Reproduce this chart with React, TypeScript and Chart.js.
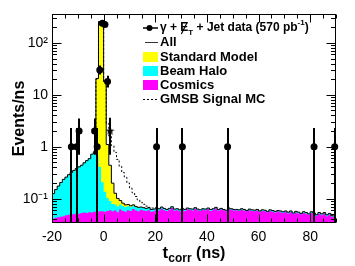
import React, { useEffect, useRef } from 'react';
import { Chart, registerables } from 'chart.js';

Chart.register(...registerables);

const FONT = '"Liberation Sans", Arial, Helvetica, sans-serif';

// ---------- data ----------
// histogram binning (ns)
const binLow = -20;
const binWidth = 1;

// Cosmics (magenta), bins -20 .. 89
const cosmics = [
  0.040, 0.041, 0.043, 0.044, 0.045, 0.046, 0.048, 0.049, 0.050, 0.050, 0.052, 0.051, 0.053, 0.054, 0.053, 0.055, 0.054, 0.056, 0.055, 0.057,
  0.057, 0.056, 0.058, 0.060, 0.057, 0.059, 0.055, 0.062, 0.058, 0.056, 0.060, 0.058, 0.063, 0.059, 0.057, 0.061, 0.059, 0.058, 0.060, 0.056,
  0.057, 0.062, 0.059, 0.064, 0.060, 0.058, 0.061, 0.066, 0.059, 0.060, 0.057, 0.062, 0.058, 0.063, 0.061, 0.059, 0.064, 0.060, 0.058, 0.061,
  0.060, 0.063, 0.058, 0.061, 0.065, 0.059, 0.062, 0.060, 0.057, 0.063, 0.061, 0.059, 0.060, 0.058, 0.061, 0.059, 0.057, 0.060, 0.058, 0.057,
  0.059, 0.056, 0.058, 0.057, 0.055, 0.058, 0.056, 0.054, 0.057, 0.055, 0.053, 0.056, 0.052, 0.055, 0.051, 0.054, 0.052, 0.050, 0.053, 0.051,
  0.049, 0.053, 0.050, 0.047, 0.051, 0.048, 0.052, 0.046, 0.049, 0.045,
];

// Beam Halo (cyan), bins -20 .. 89
const beamHalo = [
  0.055, 0.084, 0.107, 0.131, 0.160, 0.189, 0.212, 0.241, 0.270, 0.300, 0.328, 0.359, 0.387, 0.436, 0.487, 0.535, 0.666, 0.745, 0.600, 0.350,
  0.150, 0.080, 0.045, 0.030, 0.022, 0.018, 0.016, 0.015, 0.014, 0.013, 0.012, 0.011, 0.010, 0.010, 0.009, 0.008, 0.008, 0.007, 0.007, 0.006,
  0.006, 0.005, 0.005, 0.005, 0.005, 0.004, 0.004, 0.004, 0.004, 0.004, 0.004, 0.003, 0.004, 0.003, 0.003, 0.004, 0.003, 0.003, 0.003, 0.003,
  0.003, 0.003, 0.004, 0.003, 0.003, 0.003, 0.003, 0.002, 0.003, 0.003, 0.003, 0.003, 0.002, 0.003, 0.003, 0.003, 0.002, 0.003, 0.003, 0.003,
  0.003, 0.002, 0.003, 0.003, 0.002, 0.003, 0.003, 0.003, 0.002, 0.003, 0.003, 0.002, 0.003, 0.003, 0.002, 0.003, 0.003, 0.002, 0.003, 0.003,
  0.002, 0.003, 0.003, 0.002, 0.003, 0.003, 0.002, 0.003, 0.003, 0.002,
];

// Standard Model (yellow), bins starting at -2 ns
const smLow = -2;
const standardModel = [20, 255, 245, 18, 1.0, 0.35, 0.12, 0.05, 0.03, 0.015, 0.01, 0.007, 0.005, 0.004, 0.003, 0.002, 0.002];

// GMSB Signal MC (dotted, total), bins starting at -3 ns
const gmsbLow = -3;
const gmsbTotal = [0.8, 20, 255, 245, 18, 2.8, 1.6, 1.05, 0.78, 0.57, 0.42, 0.32, 0.26, 0.2, 0.16, 0.13, 0.11, 0.095, 0.085, 0.078, 0.072, 0.068, 0.066];

// gamma + MET + jet data
const dataX = [-12.5, -10.5, -9.5, -3.5, -2.5, -1.5, -0.5, 0.5, 1.5, 20.5, 30.5, 48, 81.5, 89.5];
const dataY = [1, 1, 2, 2, 1, 30, 240, 225, 18, 1, 1, 1, 1, 1];
const dataErrLo = [1, 1, 1.3, 1.3, 1, 5.5, 15.5, 15, 4.2, 1, 1, 1, 1, 1];
const dataErrHi = [1.3, 1.3, 1.5, 1.5, 1.3, 6.5, 16.5, 16, 5.2, 1.3, 1.3, 1.3, 1.3, 1.3];

// starred event
const starX = [2.5];
const starY = [2];
const starErrLo = [1.3];
const starErrHi = [1.6];

// axes
const xMin = -20;
const xMax = 90;
const yMin = 0.034;
const yMax = 360;
const xTicks = [-20, 0, 20, 40, 60, 80];
const yTicks = [0.1, 1, 10, 100];
const yTickLabels = ['10\u207B\u00B9', '1', '10', '10\u00B2'];

// ---------- helpers ----------
function stepPoints(low: number, width: number, values: number[]) {
  const pts = values.map((v, i) => ({ x: low + i * width, y: v }));
  pts.push({ x: low + values.length * width, y: values[values.length - 1] });
  return pts;
}

const smOffset = Math.round((smLow - binLow) / binWidth);
const haloStack = cosmics.map((c, i) => c + beamHalo[i]);
const totalStack = haloStack.map((h, i) => {
  const j = i - smOffset;
  return h + (j >= 0 && j < standardModel.length ? standardModel[j] : 0);
});

function makeStar(size: number): HTMLCanvasElement {
  const c = document.createElement('canvas');
  c.width = size;
  c.height = size;
  const g = c.getContext('2d')!;
  const cx = size / 2, cy = size / 2, R = size / 2, r = R * 0.42;
  g.beginPath();
  for (let k = 0; k < 10; k++) {
    const ang = -Math.PI / 2 + (k * Math.PI) / 5;
    const rad = k % 2 === 0 ? R : r;
    g.lineTo(cx + rad * Math.cos(ang), cy + rad * Math.sin(ang));
  }
  g.closePath();
  g.fillStyle = '#000';
  g.fill();
  return c;
}

const decorPlugin = {
  id: 'rootDecor',
  afterDatasetsDraw(chart: any) {
    const { ctx, chartArea: a, scales } = chart;
    const x = scales.x, y = scales.y;
    ctx.save();
    // error bars
    ctx.strokeStyle = '#000';
    ctx.lineWidth = 2;
    const bars = (xs: number[], ys: number[], lo: number[], hi: number[]) => {
      xs.forEach((xv, i) => {
        const px = Math.round(x.getPixelForValue(xv));
        const top = Math.max(a.top, y.getPixelForValue(ys[i] + hi[i]));
        const lowVal = ys[i] - lo[i];
        const bot = lowVal > y.min ? y.getPixelForValue(lowVal) : a.bottom;
        ctx.beginPath();
        ctx.moveTo(px, top);
        ctx.lineTo(px, bot);
        ctx.stroke();
      });
    };
    bars(dataX, dataY, dataErrLo, dataErrHi);
    bars(starX, starY, starErrLo, starErrHi);

    // frame
    ctx.lineWidth = 1;
    const L = Math.round(a.left) + 0.5, R = Math.round(a.right) - 0.5;
    const T = Math.round(a.top) + 0.5, B = Math.round(a.bottom) - 0.5;
    ctx.strokeRect(L, T, R - L, B - T);
    ctx.beginPath();
    // x ticks (major 20, minor 5)
    for (let v = xMin; v <= xMax; v += 5) {
      const px = Math.round(x.getPixelForValue(v)) + 0.5;
      const len = v % 20 === 0 ? 8 : 4;
      ctx.moveTo(px, B); ctx.lineTo(px, B - len);
      ctx.moveTo(px, T); ctx.lineTo(px, T + len);
    }
    // y ticks (log)
    for (let e = -2; e <= 3; e++) {
      for (let m = 1; m <= 9; m++) {
        const v = m * Math.pow(10, e);
        if (v < y.min || v > y.max) continue;
        const py = Math.round(y.getPixelForValue(v)) + 0.5;
        const len = m === 1 ? 9 : 4.5;
        ctx.moveTo(L, py); ctx.lineTo(L + len, py);
        ctx.moveTo(R, py); ctx.lineTo(R - len, py);
      }
    }
    ctx.stroke();
    ctx.restore();
  },
  afterDraw(chart: any) {
    const { ctx, chartArea: a } = chart;
    ctx.save();
    ctx.fillStyle = '#000';
    ctx.strokeStyle = '#000';
    ctx.textBaseline = 'middle';
    ctx.textAlign = 'left';
    // ----- legend -----
    const sx0 = 143, sx1 = 158, tx = 160;
    const rows = [28, 42, 57, 71, 85, 99];
    const big = 'bold 13px ' + FONT;
    const first = 'bold 12px ' + FONT;
    const small = 'bold 8px ' + FONT;
    // row 0: data
    ctx.lineWidth = 1.5;
    ctx.beginPath(); ctx.moveTo(sx0, rows[0]); ctx.lineTo(sx1, rows[0]); ctx.stroke();
    ctx.beginPath(); ctx.arc(149.5, rows[0], 3, 0, Math.PI * 2); ctx.fill();
    let cx = tx;
    const put = (s: string, font: string, dy: number) => {
      ctx.font = font;
      ctx.fillText(s, cx, rows[0] + dy);
      cx += ctx.measureText(s).width;
    };
    put('\u03B3 + ', first, 0);
    const eX = cx;
    put('E', first, 0);
    ctx.lineWidth = 1.2;
    ctx.beginPath(); ctx.moveTo(eX + 1, rows[0] + 6); ctx.lineTo(eX + 7, rows[0] - 6); ctx.stroke();
    put('T', small, 5);
    put(' + Jet data (570 pb', first, 0);
    put('-1', small, -5);
    put(')', first, 0);
    // row 1: All
    ctx.lineWidth = 1;
    ctx.strokeStyle = '#333';
    ctx.beginPath(); ctx.moveTo(145, rows[1] + 0.5); ctx.lineTo(sx1, rows[1] + 0.5); ctx.stroke();
    ctx.strokeStyle = '#000';
    ctx.font = big;
    ctx.fillText('All', tx, rows[1]);
    // boxes
    const boxes: [string, string, number][] = [
      ['#ffff00', 'Standard Model', rows[2]],
      ['#00ffff', 'Beam Halo', rows[3]],
      ['#ff00ff', 'Cosmics', rows[4]],
    ];
    boxes.forEach(([col, label, yy]) => {
      ctx.fillStyle = col;
      ctx.fillRect(sx0, yy - 5, sx1 - sx0, 10);
      ctx.fillStyle = '#000';
      ctx.fillText(label, tx, yy);
    });
    // GMSB
    ctx.setLineDash([2, 2]);
    ctx.beginPath(); ctx.moveTo(sx0, rows[5] + 0.5); ctx.lineTo(sx1, rows[5] + 0.5); ctx.stroke();
    ctx.setLineDash([]);
    ctx.fillText('GMSB Signal MC', tx, rows[5]);

    // ----- x-axis title: t_corr (ns) -----
    const fT = 'bold 17px ' + FONT, fS = 'bold 12px ' + FONT, fN = 'bold 16px ' + FONT;
    ctx.textBaseline = 'alphabetic';
    ctx.font = fT; const w1 = ctx.measureText('t').width;
    ctx.font = fS; const w2 = ctx.measureText('corr').width;
    ctx.font = fN; const w3 = ctx.measureText(' (ns)').width;
    let xx = (a.left + a.right) / 2 - (w1 + w2 + w3) / 2;
    const base = 258;
    ctx.font = fT; ctx.fillText('t', xx, base); xx += w1;
    ctx.font = fS; ctx.fillText('corr', xx, base + 4); xx += w2;
    ctx.font = fN; ctx.fillText(' (ns)', xx, base);
    ctx.restore();
  },
};

export default function App() {
  const ref = useRef<HTMLCanvasElement>(null);
  useEffect(() => {
    document.body.style.margin = '0';
    const canvas = ref.current!;
    const star = makeStar(9);
    const chart = new Chart(canvas, {
      type: 'line',
      data: {
        datasets: [
          {
            label: 'data',
            data: dataX.map((xv, i) => ({ x: xv, y: dataY[i] })),
            showLine: false,
            pointRadius: 3.5,
            pointBackgroundColor: '#000',
            pointBorderColor: '#000',
            pointBorderWidth: 0,
            clip: false,
          } as any,
          {
            label: 'star',
            data: starX.map((xv, i) => ({ x: xv, y: starY[i] })),
            showLine: false,
            pointStyle: star,
            pointRadius: 5,
          } as any,
          {
            label: 'GMSB Signal MC',
            data: stepPoints(gmsbLow, binWidth, gmsbTotal),
            stepped: 'after',
            borderColor: '#000',
            borderWidth: 1,
            borderDash: [2, 2],
            pointRadius: 0,
            fill: false,
          },
          {
            label: 'All',
            data: stepPoints(binLow, binWidth, totalStack),
            stepped: 'after',
            borderColor: '#000',
            borderWidth: 1,
            pointRadius: 0,
            fill: false,
          },
          {
            label: 'Cosmics',
            data: stepPoints(binLow, binWidth, cosmics),
            stepped: 'after',
            borderWidth: 0,
            borderColor: 'rgba(0,0,0,0)',
            backgroundColor: '#ff00ff',
            pointRadius: 0,
            fill: 'start',
          },
          {
            label: 'Beam Halo',
            data: stepPoints(binLow, binWidth, haloStack),
            stepped: 'after',
            borderWidth: 0,
            borderColor: 'rgba(0,0,0,0)',
            backgroundColor: '#00ffff',
            pointRadius: 0,
            fill: 'start',
          },
          {
            label: 'Standard Model',
            data: stepPoints(binLow, binWidth, totalStack),
            stepped: 'after',
            borderWidth: 0,
            borderColor: 'rgba(0,0,0,0)',
            backgroundColor: '#ffff00',
            pointRadius: 0,
            fill: 'start',
          },
        ] as any,
      },
      options: {
        animation: false,
        responsive: false,
        devicePixelRatio: 1,
        layout: { padding: { left: 0, right: 19, top: 14, bottom: 0 } },
        plugins: { legend: { display: false }, tooltip: { enabled: false } },
        scales: {
          x: {
            type: 'linear',
            min: xMin,
            max: xMax,
            grid: { display: false, drawTicks: false },
            border: { display: false },
            afterBuildTicks: (s: any) => { s.ticks = xTicks.map((v) => ({ value: v })); },
            afterFit: (s: any) => { s.height = 43; },
            ticks: {
              autoSkip: false,
              maxRotation: 0,
              padding: 6,
              color: '#000',
              font: { size: 14, family: FONT },
            },
          },
          y: {
            type: 'logarithmic',
            min: yMin,
            max: yMax,
            grid: { display: false, drawTicks: false },
            border: { display: false },
            afterBuildTicks: (s: any) => { s.ticks = yTicks.map((v) => ({ value: v })); },
            afterFit: (s: any) => { s.width = 52; },
            ticks: {
              autoSkip: false,
              padding: 4,
              color: '#000',
              font: { size: 14, family: FONT },
              callback: (_v: any, i: number) => yTickLabels[i],
            },
            title: {
              display: true,
              text: 'Events/ns',
              color: '#000',
              font: { size: 16, weight: 'bold', family: FONT },
              padding: { top: 10, bottom: 0 },
            },
          },
        },
      } as any,
      plugins: [decorPlugin],
    });
    return () => chart.destroy();
  }, []);
  return (
    <div style={{ width: 355, height: 266 }}>
      <canvas ref={ref} width={355} height={266} style={{ display: 'block' }} />
    </div>
  );
}
